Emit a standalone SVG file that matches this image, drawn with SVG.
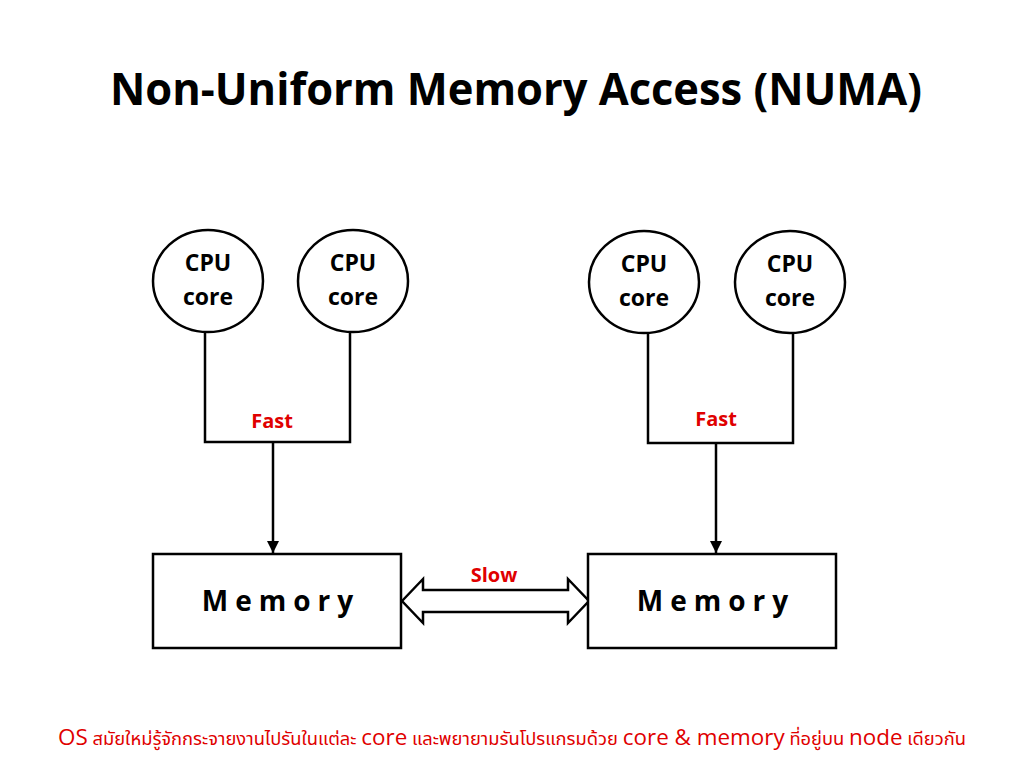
<svg xmlns="http://www.w3.org/2000/svg" width="1024" height="768" viewBox="0 0 1024 768">
<style>
.t{font-family:"Open Sans","Liberation Sans",sans-serif;font-weight:bold;fill:#000}
.cpu{font-size:23px;text-anchor:middle}
.lbl{font-family:"Open Sans","Liberation Sans",sans-serif;font-weight:bold;fill:#e00000;font-size:20px;text-anchor:middle}
.mem{font-size:28px;text-anchor:middle;letter-spacing:7px}
.node{fill:#fff;stroke:#000;stroke-width:2.5}
.wire{fill:none;stroke:#000;stroke-width:2.5}
.foot{font-family:"Open Sans","Noto Sans","Noto Sans Thai","Liberation Sans",sans-serif;fill:#e00000}
</style>
<defs>
<marker id="ah" viewBox="0 0 10 10" refX="10" refY="5" markerWidth="5" markerHeight="5" orient="auto" markerUnits="strokeWidth">
<path d="M0,0 L10,5 L0,10 z" fill="#000"/>
</marker>
</defs>
<rect width="1024" height="768" fill="#fff"/>
<text class="t" x="516" y="105" font-size="45" text-anchor="middle" textLength="812" lengthAdjust="spacingAndGlyphs">Non-Uniform Memory Access (NUMA)</text>

<g id="connectors">
<polyline class="wire" points="205,331 205,442 350,442 350,331"/>
<line class="wire" x1="273" y1="442" x2="273" y2="553" marker-end="url(#ah)"/>
<polyline class="wire" points="648,332 648,443 793,443 793,332"/>
<line class="wire" x1="716" y1="443" x2="716" y2="553" marker-end="url(#ah)"/>
<path class="node" d="M402,601 L423,579 L423,590 L568,590 L568,579 L589,601 L568,623 L568,612 L423,612 L423,623 Z"/>
<text class="lbl" x="272" y="428">Fast</text>
<text class="lbl" x="716" y="426">Fast</text>
<text class="lbl" x="494" y="582">Slow</text>
</g>

<g id="cpu1"><ellipse class="node" cx="208" cy="281" rx="55" ry="51"/><text class="t cpu" x="208" y="271">CPU</text><text class="t cpu" x="208" y="305">core</text></g>
<g id="cpu2"><ellipse class="node" cx="353" cy="281" rx="55" ry="51"/><text class="t cpu" x="353" y="271">CPU</text><text class="t cpu" x="353" y="305">core</text></g>
<g id="cpu3"><ellipse class="node" cx="644" cy="282" rx="55" ry="51"/><text class="t cpu" x="644" y="272">CPU</text><text class="t cpu" x="644" y="306">core</text></g>
<g id="cpu4"><ellipse class="node" cx="790" cy="282" rx="55" ry="51"/><text class="t cpu" x="790" y="272">CPU</text><text class="t cpu" x="790" y="306">core</text></g>

<g id="mem1"><rect class="node" x="153" y="554" width="248" height="94"/><text class="t mem" x="281" y="611">Memory</text></g>
<g id="mem2"><rect class="node" x="588" y="554" width="248" height="94"/><text class="t mem" x="716" y="611">Memory</text></g>

<text class="foot" x="58" y="745" textLength="908" lengthAdjust="spacingAndGlyphs"><tspan font-size="22">OS</tspan><tspan font-size="18"> สมัยใหม่รู้จักกระจายงานไปรันในแต่ละ </tspan><tspan font-size="22">core</tspan><tspan font-size="18"> และพยายามรันโปรแกรมด้วย </tspan><tspan font-size="22">core &amp; memory</tspan><tspan font-size="18"> ที่อยู่บน </tspan><tspan font-size="22">node</tspan><tspan font-size="18"> เดียวกัน</tspan></text>
</svg>
